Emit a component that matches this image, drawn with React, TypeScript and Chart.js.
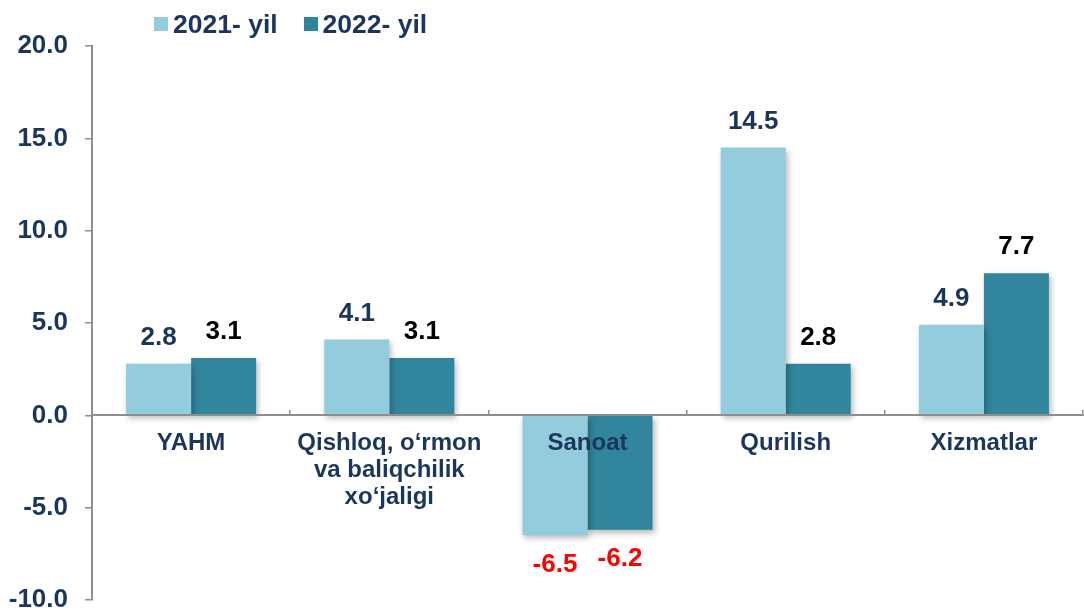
import React, { useEffect, useRef } from "react";
import { Chart, registerables } from "chart.js";

Chart.register(...registerables);

const categories: (string | string[])[] = [
  "YAHM",
  ["Qishloq, o‘rmon", "va baliqchilik", "xo‘jaligi"],
  "Sanoat",
  "Qurilish",
  "Xizmatlar",
];
const seriesNames = ["2021- yil", "2022- yil"];
const values2021 = [2.8, 4.1, -6.5, 14.5, 4.9];
const values2022 = [3.1, 3.1, -6.2, 2.8, 7.7];
const yTicks = [-10, -5, 0, 5, 10, 15, 20];

const COLOR_2021 = "#93CDDD";
const COLOR_2022 = "#31859C";
const NAVY = "#1B365D";
const AXIS_GRAY = "#8E8E8E";
const FONT = "'Liberation Sans', Arial, sans-serif";

const labelPlugin = {
  id: "barDecor",
  beforeDatasetsDraw(chart: any) {
    const ctx = chart.ctx;
    ctx.save();
    ctx.shadowColor = "rgba(0,0,0,0.28)";
    ctx.shadowBlur = 6;
    ctx.shadowOffsetX = 2;
    ctx.shadowOffsetY = 3;
  },
  afterDatasetsDraw(chart: any) {
    const ctx = chart.ctx;
    ctx.restore();
    ctx.save();
    ctx.font = `bold 26px ${FONT}`;
    ctx.textAlign = "center";
    ctx.textBaseline = "middle";
    chart.data.datasets.forEach((ds: any, di: number) => {
      const meta = chart.getDatasetMeta(di);
      meta.data.forEach((bar: any, i: number) => {
        const v = ds.data[i] as number;
        if (v < 0) {
          ctx.fillStyle = "#FF0000";
          ctx.fillText(v.toFixed(1), bar.x, bar.y + 29);
        } else {
          ctx.fillStyle = di === 0 ? NAVY : "#000000";
          ctx.fillText(v.toFixed(1), bar.x, bar.y - 26);
        }
      });
    });
    ctx.restore();
  },
};

export default function App() {
  const canvasRef = useRef<HTMLCanvasElement | null>(null);

  useEffect(() => {
    if (!canvasRef.current) return;
    const chart = new Chart(canvasRef.current, {
      type: "bar",
      data: {
        labels: categories,
        datasets: [
          {
            label: seriesNames[0],
            data: values2021,
            backgroundColor: COLOR_2021,
            borderWidth: 0,
            barPercentage: 1,
            categoryPercentage: 0.656,
          },
          {
            label: seriesNames[1],
            data: values2022,
            backgroundColor: COLOR_2022,
            borderWidth: 0,
            barPercentage: 1,
            categoryPercentage: 0.656,
          },
        ],
      },
      options: {
        animation: false,
        responsive: true,
        maintainAspectRatio: false,
        layout: { padding: { top: 46, bottom: 12, left: 0, right: 1 } },
        plugins: {
          legend: { display: false },
          tooltip: { enabled: false },
        },
        scales: {
          x: {
            position: { y: 0 } as any,
            offset: true,
            grid: {
              display: true,
              drawOnChartArea: false,
              drawTicks: true,
              tickLength: -6,
              color: AXIS_GRAY,
              lineWidth: 1.5,
              offset: true,
              z: 1,
            },
            border: { display: true, color: AXIS_GRAY, width: 2, z: 1 },
            ticks: {
              z: 1,
              color: NAVY,
              padding: 21,
              maxRotation: 0,
              autoSkip: false,
              font: { family: FONT, size: 24, weight: "bold", lineHeight: 1.125 },
            },
          },
          y: {
            min: yTicks[0],
            max: yTicks[yTicks.length - 1],
            afterBuildTicks: (scale: any) => {
              scale.ticks = yTicks.map((v) => ({ value: v }));
            },
            afterFit: (scale: any) => {
              scale.width = 92;
              scale.paddingTop = 0;
              scale.paddingBottom = 0;
            },
            grid: {
              display: true,
              drawOnChartArea: false,
              drawTicks: true,
              tickLength: 7,
              color: AXIS_GRAY,
              lineWidth: 1.5,
            },
            border: { display: true, color: AXIS_GRAY, width: 2 },
            ticks: {
              color: NAVY,
              padding: 17,
              callback: (v: any) => Number(v).toFixed(1),
              font: { family: FONT, size: 26, weight: "bold" },
            },
          },
        },
      },
      plugins: [labelPlugin],
    });
    return () => chart.destroy();
  }, []);

  const legendItems = [
    { name: seriesNames[0], color: COLOR_2021 },
    { name: seriesNames[1], color: COLOR_2022 },
  ];

  return (
    <div
      style={{
        position: "fixed",
        left: 0,
        top: 0,
        width: 1084,
        height: 612,
        background: "#FFFFFF",
      }}
    >
      <canvas ref={canvasRef} width={1084} height={612} />
      <div
        style={{
          position: "absolute",
          left: 154,
          top: 12,
          height: 25,
          display: "flex",
          alignItems: "center",
          fontFamily: FONT,
          fontWeight: "bold",
          fontSize: 26.5,
          lineHeight: "25px",
          color: NAVY,
          whiteSpace: "nowrap",
        }}
      >
        {legendItems.map((it, i) => (
          <div
            key={i}
            style={{ display: "flex", alignItems: "center", marginRight: i === 0 ? 26 : 0 }}
          >
            <span
              style={{
                display: "inline-block",
                width: 14,
                height: 14,
                background: it.color,
                marginRight: 5,
                position: "relative",
                top: -1,
              }}
            />
            <span>{it.name}</span>
          </div>
        ))}
      </div>
    </div>
  );
}
